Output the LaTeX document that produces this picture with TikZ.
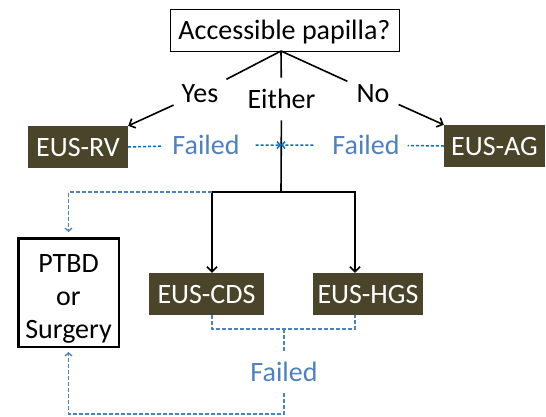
\documentclass[tikz,border=0pt]{standalone}
\usepackage{fontspec}
\setmainfont{Carlito}
\usetikzlibrary{arrows.meta}
\definecolor{olivebox}{HTML}{4A452A}
\definecolor{failblue}{HTML}{4F81BD}
\definecolor{dashblue}{HTML}{0070C0}
\tikzset{question/.style={draw,line width=0.8pt,minimum width=229pt,minimum height=42pt,inner sep=0pt,text height=0.66em,text depth=0pt}}
\tikzset{method/.style={fill=olivebox,text=white,minimum height=42pt,inner sep=0pt,text height=0.66em,text depth=0pt}}
\tikzset{rescue/.style={draw,line width=2.5pt,align=center,inner sep=0pt,minimum width=100.5pt,minimum height=108.5pt}}
\tikzset{answer/.style={inner sep=8pt,text height=0.66em,text depth=0pt}}
\tikzset{failnote/.style={text=failblue,inner xsep=10pt,inner ysep=12pt,text height=0.66em,text depth=0pt}}
\tikzset{stem/.style={line width=1.6pt}}
\tikzset{branch/.style={stem,-{Straight Barb[length=5pt,width=10pt]}}}
\tikzset{fallback/.style={dashblue,line width=1.5pt,dash pattern=on 3pt off 2pt,-{Straight Barb[length=3pt,width=7pt]}}}
\tikzset{retry/.style={failblue,line width=1.4pt,dash pattern=on 4pt off 2pt}}
\tikzset{retrytip/.style={retry,-{Straight Barb[length=3pt,width=7pt]}}}

\begin{document}
\begin{tikzpicture}[x=1pt,y=-1pt]\fontsize{28}{33}\selectfont
  \useasboundingbox (0,0) rectangle (546,416);
  % question and answers
  \node[question] (q) at (284.5,30) {Accessible papilla?};
  \coordinate (fork) at (281,51);
  \node[answer] (yes) at (200,93) {Yes};
  \node[answer,inner ysep=12pt] (either) at (281.5,99) {Either};
  \node[answer,inner xsep=9pt] (no) at (373,93) {No};
  % procedures
  \node[method,minimum width=100pt] (rv) at (78,147) {EUS-RV};
  \node[method,minimum width=101pt] (ag) at (494.5,146) {EUS-AG};
  \node[method,minimum width=115pt] (cds) at (206.5,294) {EUS-CDS};
  \node[method,minimum width=110pt] (hgs) at (368,294) {EUS-HGS};
  \node[rescue] (ptbd) at (68.5,292.5) {\rule{0pt}{30pt}PTBD\\or\\Surgery};
  % failure notes
  \node[failnote] (fl) at (206,145) {Failed};
  \node[failnote,inner xsep=8pt] (fr) at (366,145) {Failed};
  \node[failnote] (fb) at (284,372) {Failed};
  \coordinate (meet) at (281,145);
  \coordinate (j) at (281,192);
  \coordinate (jl) at (212,192);
  \coordinate (jr) at (355,192);
  \coordinate (bm) at (284,329);
  \coordinate (bb) at (284,414);

  \draw[branch] (fork) -- (yes) -- (rv.north east);
  \draw[branch] (fork) -- (no) -- (ag.north west);
  \draw[stem] (fork) -- (either) -- (j);
  \draw[branch] (j) -- (jl) -- (jl |- cds.north);
  \draw[branch] (j) -- (jr) -- (jr |- hgs.north);
  \draw[fallback,shorten <=6pt] (rv.east) -- (fl) -- (meet);
  \draw[fallback,shorten <=11pt] (ag.west) -- (fr) -- (meet);
  \draw[retrytip,shorten >=5pt] (jl) -| (ptbd.north);
  \draw[retry] (jl |- cds.south) |- (bm) -| (jr |- hgs.south);
  \draw[retrytip,shorten >=4pt] (bm) -- (fb) -- (bb) -| (ptbd.south);
\end{tikzpicture}
\end{document}
